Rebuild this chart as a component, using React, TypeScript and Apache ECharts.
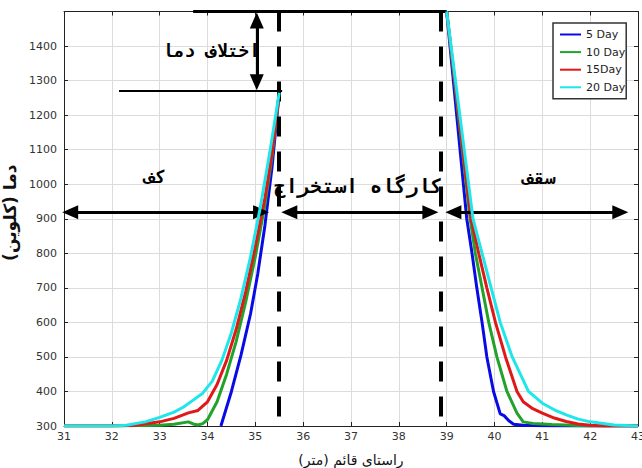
import React, { useEffect, useRef } from "react";
import * as echarts from "echarts";

const seriesNames = ["5 Day", "10 Day", "15Day", "20 Day"];
const seriesColors = ["#0a0ae6", "#22a22a", "#e01818", "#1ee6ea"];

// floor side (left of the workshop)
const day5Left = [[34.28, 300], [34.5, 400], [34.7, 505], [34.9, 625], [35.05, 740], [35.2, 880], [35.35, 1050], [35.5, 1265]];
const day10Left = [[31, 300], [32, 300], [33, 302], [33.3, 305], [33.6, 312], [33.7, 306], [33.8, 303], [33.9, 307], [34.0, 318], [34.2, 370], [34.4, 450], [34.6, 545], [34.8, 660], [35.0, 790], [35.2, 940], [35.35, 1080], [35.5, 1265]];
const day15Left = [[31, 300], [32, 300], [32.5, 302], [33.0, 312], [33.3, 322], [33.6, 338], [33.8, 345], [34.0, 370], [34.2, 420], [34.4, 490], [34.6, 580], [34.8, 690], [35.0, 820], [35.2, 960], [35.35, 1090], [35.5, 1265]];
const day20Left = [[31, 300], [32, 300], [32.3, 302], [32.7, 312], [33.0, 325], [33.3, 340], [33.5, 355], [33.7, 375], [33.9, 395], [34.1, 430], [34.3, 490], [34.5, 570], [34.7, 670], [34.9, 790], [35.1, 930], [35.3, 1090], [35.5, 1265]];

// roof side (right of the workshop)
const day5Right = [[39.0, 1500], [39.42, 900], [39.53, 800], [39.63, 700], [39.74, 600], [39.84, 500], [39.98, 400], [40.12, 335], [40.2, 330], [40.3, 315], [40.4, 305], [40.6, 302], [41.0, 301], [41.5, 300], [43, 300]];
const day10Right = [[39.0, 1500], [39.49, 900], [39.6, 800], [39.74, 700], [39.88, 600], [40.05, 500], [40.26, 400], [40.47, 337], [40.6, 312], [40.8, 307], [41.2, 304], [41.6, 302], [42, 300], [43, 300]];
const day15Right = [[39.0, 1500], [39.51, 900], [39.67, 800], [39.84, 700], [40.02, 600], [40.23, 500], [40.47, 400], [40.6, 370], [40.8, 350], [41.0, 337], [41.25, 323], [41.5, 313], [41.75, 306], [42.0, 302], [42.3, 300], [43, 300]];
const day20Right = [[39.0, 1500], [39.55, 900], [39.74, 800], [39.93, 700], [40.12, 600], [40.37, 500], [40.71, 400], [41.0, 366], [41.25, 347], [41.5, 332], [41.75, 320], [42.0, 312], [42.5, 303], [43, 300]];

const leftParts = [day5Left, day10Left, day15Left, day20Left];
const rightParts = [day5Right, day10Right, day15Right, day20Right];

const xTicks = { min: 31, max: 43, interval: 1 };
const yTicks = { min: 300, max: 1500, interval: 100 };

// annotation positions in data units
const dashedX = [35.48, 38.87];
const dashBottom = 323;
const topLine = [[33.7, 1500], [39.0, 1500]];
const diffLine = [[32.15, 1270], [35.56, 1270]];
const diffArrow = [[35.03, 1474], [35.03, 1295]];
const zoneArrowY = 919;
const zoneArrows = [[31.13, 35.12], [35.71, 38.66], [39.14, 42.63]];

const ANNOT_FONT = "'DejaVu Sans Mono', 'DejaVu Sans', monospace";

export default function App() {
  const ref = useRef<HTMLDivElement>(null);
  useEffect(() => {
    if (!ref.current) return;
    const chart = echarts.init(ref.current, null, { renderer: "svg" });
    const arrowEnd = (c: number[]) => ({ coord: c, symbol: "triangle", symbolSize: [14, 16] });
    const black = (w: number, type: any = "solid") => ({ color: "#000", width: w, type, opacity: 1 });
    const markData: any[] = [];
    dashedX.forEach((x) => {
      markData.push([
        { coord: [x, yTicks.max], symbol: "none", lineStyle: black(4, [20, 15]) },
        { coord: [x, dashBottom], symbol: "none" },
      ]);
    });
    markData.push([{ coord: topLine[0], symbol: "none", lineStyle: black(3) }, { coord: topLine[1], symbol: "none" }]);
    markData.push([{ coord: diffLine[0], symbol: "none", lineStyle: black(2) }, { coord: diffLine[1], symbol: "none" }]);
    markData.push([{ ...arrowEnd(diffArrow[0]), lineStyle: black(3) }, arrowEnd(diffArrow[1])]);
    zoneArrows.forEach(([a, b]) => {
      markData.push([{ ...arrowEnd([a, zoneArrowY]), lineStyle: black(3) }, arrowEnd([b, zoneArrowY])]);
    });

    const series: any[] = seriesNames.map((name, i) => ({
      name,
      type: "line",
      symbol: "none",
      connectNulls: false,
      lineStyle: { width: 3, color: seriesColors[i] },
      itemStyle: { color: seriesColors[i] },
      data: [...leftParts[i], [37, "-"], ...rightParts[i]],
      z: 2 + i,
    }));
    series.push({
      name: "annot",
      type: "line",
      data: [],
      clip: false,
      z: 10,
      markLine: { silent: true, animation: false, label: { show: false }, data: markData },
    });

    const axisLineStyle = { color: "#222", width: 1 };
    chart.setOption({
      animation: false,
      grid: { left: 64, right: 4, top: 11.5, bottom: 42, outerBoundsMode: "none", containLabel: false },
      legend: {
        data: seriesNames,
        orient: "vertical",
        left: 553,
        top: 23,
        padding: [6, 1, 6, 6],
        itemWidth: 21,
        itemHeight: 10,
        itemGap: 6.6,
        backgroundColor: "#fff",
        borderColor: "#333",
        borderWidth: 1.5,
        lineStyle: { width: 2 },
        itemStyle: { opacity: 0 },
        textStyle: { fontFamily: "DejaVu Sans", fontSize: 11, color: "#222" },
      },
      xAxis: [
        {
          type: "value",
          ...xTicks,
          name: "راستای قائم (متر)",
          nameLocation: "middle",
          nameGap: 27,
          nameTextStyle: { fontFamily: "DejaVu Sans", fontSize: 14, color: "#111" },
          axisLine: { show: true, onZero: false, lineStyle: axisLineStyle },
          axisTick: { show: true, inside: true, length: 4, lineStyle: axisLineStyle },
          axisLabel: { fontFamily: "DejaVu Sans", fontSize: 11, color: "#333", margin: 5, formatter: (v: number) => String(v) },
          splitLine: { show: true, lineStyle: { color: "#dcdcdc", width: 1 } },
        },
        {
          type: "value",
          ...xTicks,
          position: "top",
          axisLine: { show: true, onZero: false, lineStyle: axisLineStyle },
          axisTick: { show: true, inside: true, length: 4, lineStyle: axisLineStyle },
          axisLabel: { show: false },
          splitLine: { show: false },
        },
      ],
      yAxis: [
        {
          type: "value",
          ...yTicks,
          name: "دما (کلوین)",
          nameLocation: "middle",
          nameGap: 38,
          nameTextStyle: { fontFamily: "DejaVu Sans", fontSize: 17, fontWeight: "bold", color: "#111", padding: [0, 0, 0, 12] },
          axisLine: { show: true, onZero: false, lineStyle: axisLineStyle },
          axisTick: { show: true, inside: true, length: 4, lineStyle: axisLineStyle },
          axisLabel: { fontFamily: "DejaVu Sans", fontSize: 11, color: "#333", margin: 7, showMaxLabel: false, formatter: (v: number) => String(v) },
          splitLine: { show: true, lineStyle: { color: "#dcdcdc", width: 1 } },
        },
        {
          type: "value",
          ...yTicks,
          position: "right",
          axisLine: { show: true, onZero: false, lineStyle: axisLineStyle },
          axisTick: { show: true, inside: true, length: 4, lineStyle: axisLineStyle },
          axisLabel: { show: false },
          splitLine: { show: false },
        },
      ],
      series,
      graphic: [
        { type: "text", x: 260, y: 50, z: 20, style: { text: "اختلاف دما", font: `bold 18px ${ANNOT_FONT}`, fill: "#000", align: "right", verticalAlign: "middle" } },
        { type: "text", x: 155, y: 176, z: 20, style: { text: "کف", font: `bold 18px ${ANNOT_FONT}`, fill: "#000", align: "center", verticalAlign: "middle" } },
        { type: "text", x: 539, y: 177, z: 20, style: { text: "سقف", font: `bold 18px ${ANNOT_FONT}`, fill: "#000", align: "center", verticalAlign: "middle" } },
        { type: "text", x: 358, y: 186, z: 20, style: { text: "کارگاه استخراج", font: `bold 20px ${ANNOT_FONT}`, fill: "#000", align: "center", verticalAlign: "middle" } },
      ],
    });
    return () => chart.dispose();
  }, []);
  return <div ref={ref} style={{ position: "fixed", left: 0, top: 0, width: 642, height: 468, background: "#fff" }} />;
}
